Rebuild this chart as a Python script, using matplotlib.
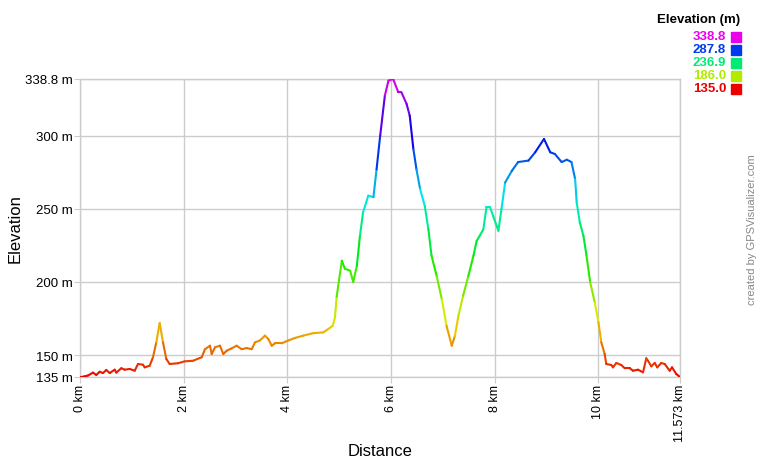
import numpy as np
import matplotlib
matplotlib.use("Agg")
import matplotlib.pyplot as plt
from matplotlib.collections import LineCollection
from matplotlib.colors import hsv_to_rgb

plt.rcParams['font.family'] = ['Liberation Sans', 'DejaVu Sans']

dist_km = [0.0, 0.025, 0.154, 0.251, 0.314, 0.380, 0.444, 0.507, 0.573, 0.669,
           0.700, 0.797, 0.862, 0.959, 1.055, 1.119, 1.215, 1.248, 1.344, 1.408,
           1.472, 1.537, 1.601, 1.665, 1.730, 1.890, 2.019, 2.180, 2.347, 2.411,
           2.507, 2.540, 2.604, 2.700, 2.764, 2.830, 2.926, 3.022, 3.119, 3.215,
           3.312, 3.375, 3.472, 3.568, 3.632, 3.698, 3.761, 3.890, 4.018, 4.147,
           4.307, 4.500, 4.693, 4.789, 4.874, 4.918, 4.951, 5.05, 5.11, 5.21,
           5.27, 5.34, 5.40, 5.46, 5.56, 5.66, 5.72, 5.79, 5.88, 5.95,
           6.04, 6.14, 6.20, 6.30, 6.36, 6.43, 6.49, 6.56, 6.65, 6.72,
           6.78, 6.88, 6.98, 7.07, 7.17, 7.23, 7.30, 7.39, 7.49, 7.59,
           7.65, 7.71, 7.78, 7.84, 7.91, 7.97, 8.07, 8.13, 8.20, 8.33,
           8.45, 8.65, 8.78, 8.95, 9.07, 9.16, 9.29, 9.39, 9.48, 9.55,
           9.58, 9.64, 9.71, 9.77, 9.84, 9.93, 10.00, 10.055, 10.120, 10.151,
           10.248, 10.281, 10.345, 10.441, 10.506, 10.603, 10.667, 10.763, 10.860, 10.923,
           10.956, 11.020, 11.085, 11.135, 11.212, 11.278, 11.374, 11.419, 11.502, 11.573]
elev_m = [135.0, 135.0, 136.0, 138.0, 136.4, 138.6, 137.7, 139.8, 137.7, 140.0,
          138.0, 141.0, 140.0, 140.5, 139.3, 143.9, 143.4, 141.6, 142.7, 148.5,
          158.7, 171.9, 158.7, 147.3, 143.9, 144.4, 145.7, 146.1, 148.5, 154.0,
          156.4, 150.7, 155.3, 156.4, 150.7, 153.0, 154.6, 156.4, 154.0, 154.8,
          154.0, 158.7, 160.0, 163.3, 161.0, 156.4, 158.0, 158.0, 160.0, 161.7,
          163.3, 165.0, 165.5, 167.8, 170.0, 175.8, 190.0, 214.5, 209.0, 207.7,
          200.0, 211.0, 231.6, 247.6, 259.0, 258.0, 277.0, 300.0, 327.4, 337.7,
          338.8, 329.7, 329.7, 321.7, 313.7, 291.0, 277.0, 263.6, 252.0, 236.0,
          218.0, 204.0, 188.0, 170.0, 156.4, 163.0, 177.0, 190.6, 204.0, 218.0,
          228.0, 231.6, 236.0, 251.0, 251.0, 245.0, 235.0, 250.0, 268.0, 276.0,
          282.0, 283.0, 288.7, 297.8, 288.7, 287.5, 282.0, 283.6, 282.0, 270.4,
          254.5, 240.8, 231.6, 218.0, 199.8, 186.0, 172.4, 158.7, 150.7, 143.9,
          143.2, 141.6, 144.6, 143.2, 141.0, 141.0, 139.3, 140.0, 138.2, 147.8,
          146.1, 142.3, 144.6, 141.6, 144.6, 143.9, 139.3, 141.6, 137.0, 135.0]

legend_vals = [338.8, 287.8, 236.9, 186.0, 135.0]
ymin, ymax = 135.0, 338.8
xmax = 11.573
yticks = [135, 150, 200, 250, 300, 338.8]
ytick_labels = ['135 m', '150 m', '200 m', '250 m', '300 m', '338.8 m']
xticks = [0, 2, 4, 6, 8, 10, 11.573]
xtick_labels = ['0 km', '2 km', '4 km', '6 km', '8 km', '10 km', '11.573 km']


def elev_color(e):
    h = 300.0 / 360.0 * (e - ymin) / (ymax - ymin)
    return hsv_to_rgb([h, 1.0, 0.92])


fig = plt.figure(figsize=(7.6, 4.6), dpi=100)
ax = fig.add_axes([80 / 760, 82 / 460, 600 / 760, 298 / 460])

x = np.array(dist_km)
y = np.array(elev_m)
pts = np.column_stack([x, y]).reshape(-1, 1, 2)
segs = np.concatenate([pts[:-1], pts[1:]], axis=1)
cols = [elev_color((a + b) / 2) for a, b in zip(y[:-1], y[1:])]
ax.add_collection(LineCollection(segs, colors=cols, linewidths=1.5,
                                 capstyle='round', joinstyle='round', zorder=3))

ax.set_xlim(0, xmax)
ax.set_ylim(ymin, ymax)
ax.set_xticks(xticks)
ax.set_xticklabels(xtick_labels, rotation=90, fontsize=9)
ax.set_yticks(yticks)
ax.set_yticklabels(ytick_labels, fontsize=9.5)
ax.grid(True, color='#cccccc', linewidth=1)
ax.set_axisbelow(True)
ax.tick_params(length=4, color='#cccccc', pad=1)
for s in ax.spines.values():
    s.set_color('#cccccc')
    s.set_linewidth(1)
ax.set_ylabel('Elevation', fontsize=12)
ax.set_xlabel('Distance', fontsize=12)
ax.yaxis.set_label_coords((15 - 80) / 600, 0.5)
ax.yaxis.label.set_va('center')
ax.xaxis.set_label_coords(0.5, (378 - 452) / 298)
ax.xaxis.label.set_va('center')

# legend
fig.text(740 / 760, 1 - 20 / 460, 'Elevation (m)', ha='right', va='center',
         fontsize=9.5, fontweight='bold')
for i, v in enumerate(legend_vals):
    yy = 1 - (37 + i * 13) / 460
    fig.text(726 / 760, yy, f'{v:.1f}', ha='right', va='center', fontsize=9.5,
             fontweight='bold', color=elev_color(v))
    fig.patches.append(plt.Rectangle((731 / 760, yy - 5.5 / 460), 10 / 760, 10 / 460,
                                     transform=fig.transFigure, color=elev_color(v)))

fig.text(752 / 760, 1 - 230 / 460, 'created by GPSVisualizer.com', rotation=90,
         ha='center', va='center', fontsize=8, color='#888888')

fig.savefig('out.png', dpi=100)
